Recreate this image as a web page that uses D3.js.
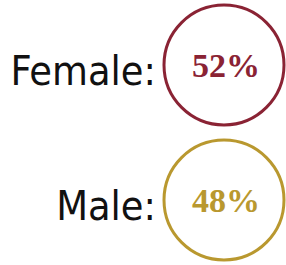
<!DOCTYPE html>
<html>
<head>
<meta charset="utf-8">
<script src="https://cdn.jsdelivr.net/npm/d3@7"></script>
<style>
  body { margin: 0; background: #fff; }
</style>
</head>
<body>
<div id="chart"></div>
<script>
// data
var genders = ["Female", "Male"];
var shares = [52, 48];
var ringColors = ["#8a2334", "#b9982f"];

var width = 286, height = 265;

var svg = d3.select("#chart").append("svg")
    .attr("width", width)
    .attr("height", height);

// one row per gender
var y = d3.scalePoint()
    .domain(genders)
    .range([65, 200]);

var color = d3.scaleOrdinal()
    .domain(genders)
    .range(ringColors);

var rows = svg.selectAll("g.row")
    .data(genders.map(function(g, i) { return {gender: g, value: shares[i]}; }))
  .enter().append("g")
    .attr("class", "row")
    .attr("transform", function(d) { return "translate(0," + y(d.gender) + ")"; });

// label
rows.append("text")
    .attr("x", 156)
    .attr("y", 20)
    .attr("text-anchor", "end")
    .attr("font-family", "'Liberation Sans Narrow', 'DejaVu Sans Condensed', sans-serif")
    .attr("font-size", 41)
    .attr("fill", "#111")
    .text(function(d) { return d.gender + ":"; });

// ring
rows.append("circle")
    .attr("cx", 224)
    .attr("cy", 0)
    .attr("r", 60)
    .attr("fill", "none")
    .attr("stroke", function(d) { return color(d.gender); })
    .attr("stroke-width", 3);

// percentage
rows.append("text")
    .attr("x", 226)
    .attr("y", 12)
    .attr("text-anchor", "middle")
    .attr("font-family", "'Liberation Serif', serif")
    .attr("font-weight", "bold")
    .attr("font-size", 34)
    .attr("fill", function(d) { return color(d.gender); })
    .text(function(d) { return d.value + "%"; });
</script>
</body>
</html>
